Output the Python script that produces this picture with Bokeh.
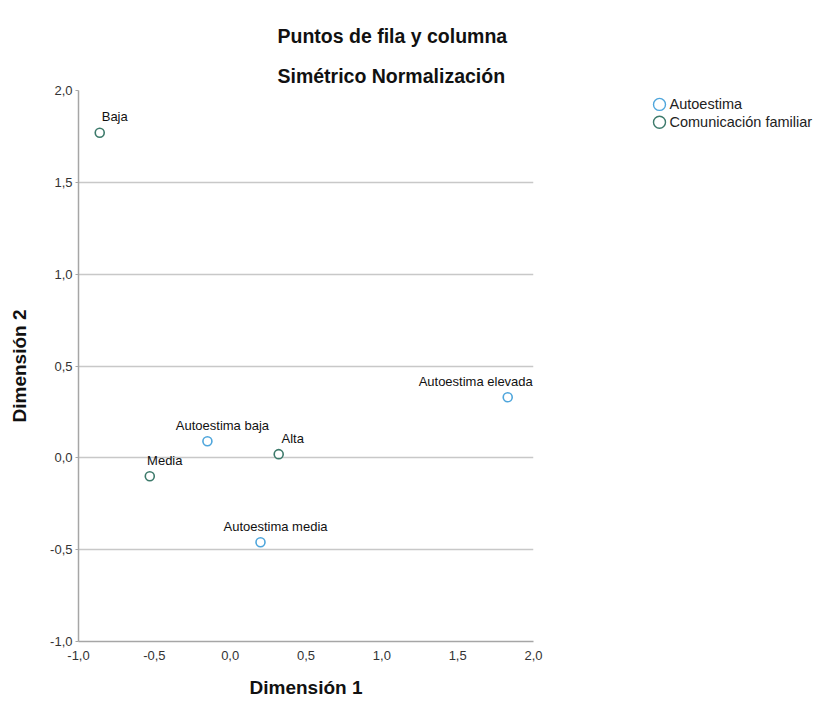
from bokeh.plotting import figure
from bokeh.layouts import row
from bokeh.models import (Range1d, Title, ColumnDataSource,
                          CustomJSTickFormatter, FixedTicker)
from bokeh.embed import file_html
from bokeh.resources import INLINE
from bokeh.core.properties import value

# ---------------- data ----------------
title_text = "Puntos de fila y columna"
subtitle_text = "Simétrico Normalización"
x_title = "Dimensión 1"
y_title = "Dimensión 2"
series_names = ["Autoestima", "Comunicación familiar"]

autoestima_labels = ["Autoestima baja", "Autoestima media", "Autoestima elevada"]
autoestima_dim1 = [-0.15, 0.20, 1.83]
autoestima_dim2 = [0.09, -0.46, 0.33]

comunicacion_labels = ["Baja", "Media", "Alta"]
comunicacion_dim1 = [-0.86, -0.53, 0.32]
comunicacion_dim2 = [1.77, -0.10, 0.02]

axis_ticks = [-1.0, -0.5, 0.0, 0.5, 1.0, 1.5, 2.0]

# ---------------- layout / style ----------------
W, H = 814, 700
MW = 545                      # width of the main plot figure
FL, FR, FT, FB = 78, 533, 90, 645
FONT = "Liberation Sans"
C_AUTO = "#4fa6dc"
C_COM = "#3d7a6b"
series_colors = [C_AUTO, C_COM]

p = figure(width=MW, height=H, x_range=Range1d(-1, 2), y_range=Range1d(-1, 2),
           output_backend="svg", toolbar_location=None,
           min_border_left=FL, min_border_right=MW - FR,
           min_border_top=FT, min_border_bottom=H - FB)
p.outline_line_color = None
p.background_fill_color = "white"

fmt = CustomJSTickFormatter(code="return tick.toFixed(1).replace('.', ',');")
for ax in (p.xaxis[0], p.yaxis[0]):
    ax.ticker = FixedTicker(ticks=axis_ticks)
    ax.formatter = fmt
    ax.axis_line_color = "#a6a6a6"
    ax.axis_line_width = 1.5
    ax.major_tick_line_color = "#a6a6a6"
    ax.minor_tick_line_color = None
    ax.major_label_text_font = FONT
    ax.major_label_text_font_size = "13px"
    ax.major_label_text_color = "#333333"
    ax.axis_label_text_font = FONT
    ax.axis_label_text_font_size = "19px"
    ax.axis_label_text_font_style = "bold"
    ax.axis_label_text_color = "#111111"

p.xaxis.axis_label = x_title
p.yaxis.axis_label = y_title
p.xaxis.major_tick_out = 0
p.xaxis.major_tick_in = 0
p.xaxis.major_label_standoff = 9
p.xaxis.axis_label_standoff = 14
p.yaxis.major_tick_out = 3
p.yaxis.major_tick_in = 0
p.yaxis.major_label_standoff = 3
p.yaxis.axis_label_standoff = 17

p.xgrid.grid_line_color = None
p.ygrid.grid_line_color = "#c8c8c8"
p.ygrid.grid_line_width = 1.5

# titles: subtitle closest to the frame, main title above it
p.add_layout(Title(text=subtitle_text, align="left", offset=277 - FL, standoff=7,
                   text_font=FONT, text_font_size="19.5px", text_font_style="bold",
                   text_color="#111111"), "above")
p.add_layout(Title(text=title_text, align="left", offset=277 - FL, standoff=25,
                   text_font=FONT, text_font_size="19.5px", text_font_style="bold",
                   text_color="#111111"), "above")

# points and their labels
src_a = ColumnDataSource(dict(x=autoestima_dim1, y=autoestima_dim2, t=autoestima_labels,
                              dx=[15, 15, -32]))
src_c = ColumnDataSource(dict(x=comunicacion_dim1, y=comunicacion_dim2, t=comunicacion_labels,
                              dx=[15, 15, 14]))

for src, col in ((src_a, C_AUTO), (src_c, C_COM)):
    p.scatter("x", "y", source=src, marker="circle", size=9, fill_color="white",
              line_color=col, line_width=1.6)
    p.text("x", "y", text="t", source=src, x_offset="dx", y_offset=-16,
           text_align="center", text_baseline="middle",
           text_font=value(FONT), text_font_size="13px", text_color="#111111")

# ---------------- legend panel ----------------
# its frame is aligned with the main frame; ranges are set to page pixels
lg = figure(width=W - MW, height=H, x_range=Range1d(MW, W), y_range=Range1d(FB, FT),
            x_axis_type=None, y_axis_type=None,
            output_backend="svg", toolbar_location=None,
            min_border_left=0, min_border_right=0,
            min_border_top=FT, min_border_bottom=H - FB)
lg.outline_line_color = None
lg.grid.visible = False

LEG_X, LEG_Y0, LEG_STEP = 659, 104, 18
n = len(series_names)
leg_src = ColumnDataSource(dict(
    x=[LEG_X] * n,
    y=[LEG_Y0 + i * LEG_STEP for i in range(n)],
    name=series_names,
    color=series_colors,
))
lg.scatter("x", "y", source=leg_src, marker="circle", size=12, fill_color="white",
           line_color="color", line_width=1.4)
lg.text("x", "y", text="name", source=leg_src, x_offset=10,
        text_align="left", text_baseline="middle",
        text_font=value(FONT), text_font_size="14.5px", text_color="#222222")

layout = row(p, lg)
open("out.html", "w").write(file_html(layout, INLINE))
